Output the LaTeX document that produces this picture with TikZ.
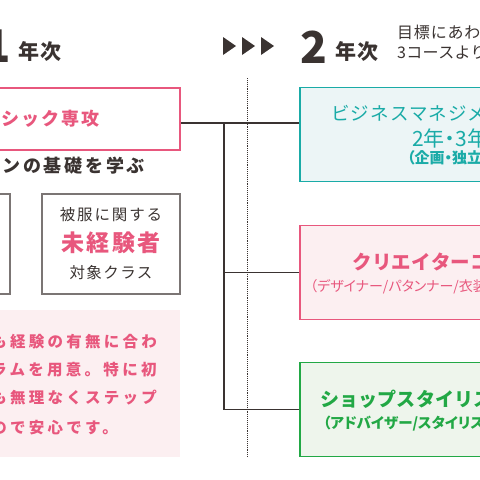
\documentclass[tikz,border=0pt]{standalone}
\usepackage{fontspec}
\usepackage{xcolor}
\usepackage{tikz}
\usetikzlibrary{positioning}
\setmainfont{Noto Sans CJK JP}
\definecolor{ink}{HTML}{3A3331}
\definecolor{greyline}{HTML}{7B7574}
\definecolor{kpink}{HTML}{E8577D}
\definecolor{kpinkbg}{HTML}{FCEFF1}
\definecolor{kteal}{HTML}{1AABA7}
\definecolor{ktealbg}{HTML}{ECF5F6}
\definecolor{kgreen}{HTML}{22A845}
\definecolor{kgreenbg}{HTML}{EEF5EC}
\newcommand{\jsz}[2]{\fontsize{#1}{#1}\selectfont\addfontfeature{LetterSpace=#2}}
\newcommand{\jprop}{\addfontfeature{RawFeature=+palt}}
\tikzstyle{pinkbox} = [rectangle, draw=kpink, line width=1.6pt, fill=white, inner sep=0pt]
\tikzstyle{greybox} = [rectangle, draw=greyline, line width=1.2pt, fill=white, inner sep=0pt]
\tikzstyle{panel} = [rectangle, fill=kpinkbg, inner sep=0pt]
\tikzstyle{coursebox} = [rectangle, line width=1.6pt, minimum width=300pt, minimum height=94pt, inner sep=0pt]
\tikzstyle{jtext} = [inner sep=0pt, text=ink]
\tikzstyle{line} = [draw, ink, line width=1.2pt, -]
\tikzstyle{dotline} = [draw, ink, line width=1pt, dash pattern=on 0.9pt off 1pt]

\begin{document}
\begin{tikzpicture}[x=1pt, y=-1pt]
        \useasboundingbox (0,0) rectangle (480,480);
        \clip (0,0) rectangle (480,480);

        % headings
        \node[jtext, anchor=east, font=\jsz{45}{0}\bfseries] (one) at (11,46.5) {1};
        \node[jtext, anchor=west, font=\jsz{21}{6}\bfseries] (oneyear) at (18,51) {年次};
        \fill[ink] (223,37) -- (236,46) -- (223,55) -- cycle;
        \fill[ink] (242,37) -- (255,46) -- (242,55) -- cycle;
        \fill[ink] (261,37) -- (274,46) -- (261,55) -- cycle;
        \node[jtext, font=\jsz{44}{0}\bfseries] (two) at (313.5,47.5) {2};
        \node[jtext, anchor=west, font=\jsz{21}{6}\bfseries] (twoyear) at (335,51) {年次};
        \node[jtext, anchor=west, font=\jsz{16}{5}] (aim) at (397,32) {目標にあわ};
        \node[jtext, anchor=west, font=\jsz{16}{2}] (choose) at (397,53) {3コースより};

        % 1st year
        \node[pinkbox, minimum width=200pt, minimum height=62pt] (basic) at (80,119) {};
        \node[jtext, text=kpink, anchor=east, font=\jsz{18}{11}\bfseries] (basiclbl) at (100,119) {シック専攻};
        \node[jtext, anchor=east, font=\jsz{18}{15}\bfseries] (learn) at (145,166) {ンの基礎を学ぶ};
        \node[greybox, minimum width=60pt, minimum height=100pt] (expbox) at (-20,244) {};
        \node[greybox, minimum width=138pt, minimum height=100pt] (novbox) at (111,244) {};
        \node[jtext, font=\jsz{15.5}{12}] (novtop) at (111,215) {被服に関する};
        \node[jtext, text=kpink, font=\jsz{23}{10}\bfseries] (novmid) at (111,243) {未経験者};
        \node[jtext, font=\jsz{15.5}{9}] (novbot) at (111,273) {対象クラス};
        \node[panel, minimum width=200pt, minimum height=147pt] (note) at (80,383.5) {};
        \node[jtext, text=kpink, anchor=west, font=\jsz{15.5}{21}\bfseries] (note1) at (-8.75,342) {も経験の有無に合わ};
        \node[jtext, text=kpink, anchor=west, font=\jsz{15.5}{21}\bfseries] (note2) at (-8.75,370) {ラムを用意。特に初};
        \node[jtext, text=kpink, anchor=west, font=\jsz{15.5}{21}\bfseries] (note3) at (-8.75,398) {も無理なくステップ};
        \node[jtext, text=kpink, anchor=west, font=\jsz{15.5}{21}\bfseries] (note4) at (-8.75,428) {ので安心です。};

        % 2nd year courses
        \node[coursebox, draw=kteal, fill=ktealbg] (biz) at (450,134.5) {};
        \node[jtext, text=kteal, anchor=west, font=\jsz{18.5}{6}] (bizlbl) at (331,113) {ビジネスマネジメ};
        \node[jtext, text=kteal, anchor=west, font=\jsz{21}{0}\jprop] (bizyear) at (412,138) {2年・3年};
        \node[jtext, text=kteal, anchor=west, font=\jsz{15}{0}\jprop\bfseries] (bizjob) at (407,158) {（企画・独立};
        \node[coursebox, draw=kpink, fill=kpinkbg] (creator) at (450,272.5) {};
        \node[jtext, text=kpink, anchor=west, font=\jsz{19.5}{2}\bfseries] (creatorlbl) at (352,262) {クリエイターコ};
        \node[jtext, text=kpink, anchor=west, font=\jsz{14}{0}\jprop] (creatorjob) at (310,287) {（デザイナー/パタンナー/衣装};
        \node[coursebox, draw=kgreen, fill=kgreenbg] (shop) at (450,409.5) {};
        \node[jtext, text=kgreen, anchor=west, font=\jsz{19}{1}\bfseries] (shoplbl) at (320,399) {ショップスタイリス};
        \node[jtext, text=kgreen, anchor=west, font=\jsz{14.5}{0}\jprop\bfseries] (shopjob) at (323,424) {（アドバイザー/スタイリス};

        % connectors
        \coordinate (split) at (224,123);
        \coordinate (mid) at (224,272.5);
        \coordinate (low) at (224,409.5);
        \coordinate (dtop) at (247,78);
        \coordinate (dbot) at (247,457);
        \draw[line] (basic.east |- split) -- (biz.west |- split);
        \draw[line] (split) -- (low);
        \draw[line] (mid) -- (creator.west);
        \draw[line] (low) -- (shop.west);
        \draw[dotline] (dtop) -- (dbot);
    \end{tikzpicture}
\end{document}
